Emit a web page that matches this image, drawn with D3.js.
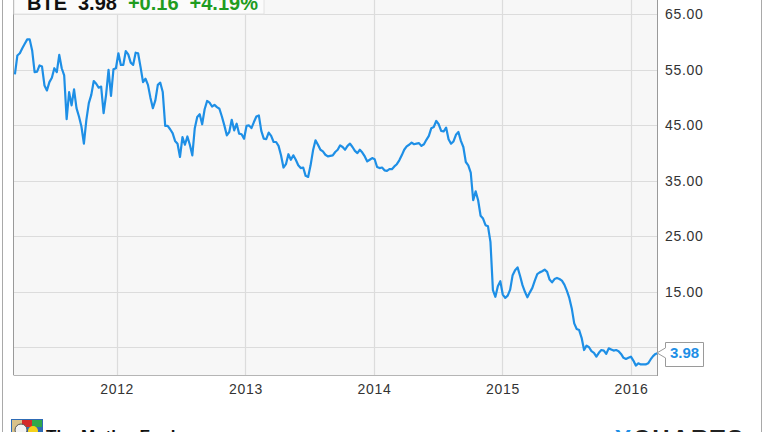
<!DOCTYPE html>
<html>
<head>
<meta charset="utf-8">
<script src="https://cdn.jsdelivr.net/npm/d3@7/dist/d3.min.js"></script>
<style>
  html, body { margin: 0; padding: 0; background: #fff; }
  svg { display: block; font-family: "Liberation Sans", Arial, sans-serif; }
</style>
</head>
<body>
<svg id="chart" width="764" height="432"></svg>
<script>
// ---- Data (weekly closes of BTE) ----
const ticker = "BTE";
const lastPrice = "3.98";
const change = "+0.16";
const changePct = "+4.19%";
const firstWeek = "2011-03-18";
const prices = [
  54.2, 57.6, 58.0, 58.9, 59.7, 60.5, 60.5, 58.5, 54.6, 54.7,
  55.8, 55.6, 52.2, 51.3, 52.8, 53.6, 55.3, 54.6, 57.7, 55.3,
  54.0, 46.1, 51.0, 48.6, 51.5, 48.1, 46.6, 44.8, 41.7, 46.0,
  49.0, 50.5, 53.0, 52.5, 51.8, 52.0, 47.2, 50.5, 55.0, 50.3,
  55.1, 55.3, 58.0, 55.9, 55.9, 58.4, 57.8, 56.3, 55.9, 58.1,
  58.0, 55.5, 52.8, 53.4, 52.3, 50.0, 48.1, 49.5, 52.3, 52.7,
  51.0, 44.9, 44.9, 44.3, 43.6, 42.2, 41.7, 39.3, 42.9, 41.5,
  43.0, 41.5, 39.6, 44.5, 46.5, 47.0, 45.2, 47.9, 49.4, 49.1,
  48.4, 48.7, 48.3, 48.0, 46.6, 45.0, 43.2, 43.8, 46.0, 44.1,
  45.3, 43.5, 43.4, 42.6, 44.9, 45.0, 44.5, 45.6, 46.6, 46.8,
  44.0, 42.6, 42.5, 43.7, 43.1, 42.0, 42.0, 41.3, 39.6, 37.4,
  38.0, 39.8, 38.8, 39.6, 38.8, 37.8, 37.3, 37.4, 35.9, 35.7,
  37.8, 40.5, 42.3, 41.5, 40.6, 40.3, 39.7, 39.4, 39.5, 39.6,
  40.2, 40.6, 41.4, 41.1, 40.6, 41.3, 41.7, 41.1, 40.4, 40.0,
  40.6, 40.1, 39.4, 38.5, 38.8, 39.1, 38.9, 37.5, 37.3, 37.4,
  36.9, 36.8, 37.1, 37.1, 37.6, 38.0, 38.7, 39.6, 40.6, 41.2,
  41.5, 41.9, 41.6, 41.7, 41.8, 41.3, 41.6, 42.4, 43.1, 44.5,
  44.7, 45.8, 45.2, 44.0, 43.9, 44.6, 42.5, 41.7, 42.1, 43.3,
  43.8, 42.2, 41.1, 38.4, 37.8, 36.5, 31.5, 33.1, 31.5, 28.7,
  28.2, 27.0, 26.8, 24.0, 15.3, 14.1, 16.0, 16.9, 14.5, 13.9,
  14.3, 15.4, 18.0, 18.9, 19.4, 17.9, 16.2, 15.0, 14.0, 14.9,
  15.7, 17.0, 18.2, 18.5, 18.7, 19.0, 18.6, 17.2, 16.7, 17.3,
  17.5, 17.3, 17.0, 16.3, 15.2, 13.9, 12.0, 9.3, 8.3, 8.1,
  6.7, 4.5, 5.3, 5.0, 4.3, 4.0, 3.3, 4.0, 4.5, 4.4,
  3.8, 4.8, 4.6, 4.4, 4.5, 4.3, 3.8, 3.1, 2.9, 3.1,
  3.3, 2.6, 1.7, 2.1, 1.9, 1.9, 1.9, 2.1, 2.8, 3.4,
  3.8, 3.98
];
const yTickValues = [65, 55, 45, 35, 25, 15];
const yGridValues = [65, 55, 45, 35, 25, 15, 5];
const xTickLabels = ["2012", "2013", "2014", "2015", "2016"];
const xDomain = ["2011-03-14", "2016-03-18"];
const yDomain = [0, 67.6];

// ---- Layout ----
const plot = { left: 13.5, right: 658, top: 0, bottom: 375 };
const parse = d3.timeParse("%Y-%m-%d");
const start = parse(firstWeek);
const data = prices.map((v, i) => ({ date: d3.timeDay.offset(start, 7 * i), value: v }));

const svg = d3.select("#chart");
const x = d3.scaleTime().domain(xDomain.map(parse)).range([plot.left, plot.right]);
const y = d3.scaleLinear().domain(yDomain).range([plot.bottom, plot.top]);

// outer frame
svg.append("rect").attr("x", 2.5).attr("y", -5).attr("width", 759).attr("height", 450)
  .attr("fill", "#fff").attr("stroke", "#a9a9a9").attr("stroke-width", 1);

// plot background
svg.append("rect").attr("x", plot.left).attr("y", plot.top)
  .attr("width", plot.right - plot.left).attr("height", plot.bottom - plot.top)
  .attr("fill", "#f7f7f7");

// grid
const grid = svg.append("g").attr("stroke", "#dcdcdc").attr("stroke-width", 1.2);
grid.selectAll("line.h").data(yGridValues).join("line")
  .attr("x1", plot.left).attr("x2", plot.right)
  .attr("y1", d => Math.round(y(d)) + 0.5).attr("y2", d => Math.round(y(d)) + 0.5);
const yearDates = xTickLabels.map(s => parse(s + "-01-01"));
grid.selectAll("line.v").data(yearDates).join("line")
  .attr("y1", plot.top).attr("y2", plot.bottom)
  .attr("x1", d => Math.round(x(d)) + 0.5).attr("x2", d => Math.round(x(d)) + 0.5);

// plot borders
svg.append("line").attr("x1", plot.left).attr("x2", plot.left).attr("y1", 0).attr("y2", plot.bottom)
  .attr("stroke", "#9a9a9a");
svg.append("line").attr("x1", plot.left).attr("x2", plot.right).attr("y1", plot.bottom + 0.5).attr("y2", plot.bottom + 0.5)
  .attr("stroke", "#b5b5b5");
svg.append("line").attr("x1", plot.right - 0.5).attr("x2", plot.right - 0.5).attr("y1", 0).attr("y2", plot.bottom + 1)
  .attr("stroke", "#9a9a9a");

// legend box
const lg = svg.append("g");
lg.append("rect").attr("x", plot.left + 0.5).attr("y", -6).attr("width", 250).attr("height", 20)
  .attr("fill", "#fbfbfb").attr("stroke", "#e2e2e2");
const lt = lg.append("text").attr("x", 27).attr("y", 9.5).attr("font-size", 20).attr("font-weight", "bold");
lt.append("tspan").attr("fill", "#111").text(ticker);
lt.append("tspan").attr("dx", 11).attr("fill", "#111").text(lastPrice);
lt.append("tspan").attr("dx", 11).attr("fill", "#1f9c1f").text(change);
lt.append("tspan").attr("dx", 11).attr("fill", "#1f9c1f").text(changePct);

// line
const line = d3.line().x(d => x(d.date)).y(d => y(d.value)).curve(d3.curveLinear);
svg.append("path").datum(data).attr("d", line)
  .attr("fill", "none").attr("stroke", "#1e8fe6").attr("stroke-width", 2.2)
  .attr("stroke-linejoin", "round");

// y axis labels
const yAxis = d3.axisRight(y).tickValues(yTickValues).tickSize(0).tickPadding(0)
  .tickFormat(d => d3.format(".2f")(d));
const ya = svg.append("g").attr("transform", `translate(665,0)`).call(yAxis);
ya.select(".domain").remove();
ya.selectAll("text").attr("font-family", "'Liberation Sans', Arial, sans-serif")
  .attr("font-size", 14).attr("fill", "#333").attr("letter-spacing", 0.7);

// x axis labels
const xAxis = d3.axisBottom(x).tickValues(yearDates).tickSize(0).tickPadding(0)
  .tickFormat(d3.timeFormat("%Y"));
const xa = svg.append("g").attr("transform", `translate(0,${plot.bottom + 9})`).call(xAxis);
xa.select(".domain").remove();
xa.selectAll("text").attr("font-family", "'Liberation Sans', Arial, sans-serif")
  .attr("font-size", 14).attr("fill", "#333").attr("letter-spacing", 0.7);

// last price flag
const last = data[data.length - 1];
const lx = x(last.date), ly = y(last.value);
const flag = svg.append("g");
flag.append("path")
  .attr("d", `M${lx - 1},${ly} L665.5,${ly - 5} L665.5,342.5 L703.5,342.5 L703.5,366.5 L665.5,366.5 L665.5,${ly + 5} Z`)
  .attr("fill", "#fff").attr("stroke", "#9a9a9a");
flag.append("text").attr("x", 684.5).attr("y", ly + 5.5).attr("text-anchor", "middle")
  .attr("font-size", 15).attr("font-weight", "bold").attr("fill", "#1e8fe6").text(lastPrice);

// footer
const logo = svg.append("g").attr("transform", "translate(11,419)");
logo.append("rect").attr("width", 32).attr("height", 16).attr("fill", "#2e6bb5");
logo.append("rect").attr("x", 1).attr("y", 1).attr("width", 10).attr("height", 14).attr("fill", "#d9c28a");
logo.append("rect").attr("x", 11).attr("y", 1).attr("width", 10).attr("height", 7).attr("fill", "#d42a2a");
logo.append("rect").attr("x", 21).attr("y", 1).attr("width", 10).attr("height", 7).attr("fill", "#2fa84a");
logo.append("circle").attr("cx", 10).attr("cy", 11).attr("r", 6).attr("fill", "#f3f3f3").attr("stroke", "#555");
logo.append("circle").attr("cx", 22).attr("cy", 12).attr("r", 5).attr("fill", "#f5d21b");
svg.append("text").attr("x", 46).attr("y", 442).attr("font-size", 17).attr("font-weight", "bold")
  .attr("fill", "#111").text("The Motley Fool");
const yc = svg.append("text").attr("x", 615).attr("y", 447).attr("font-size", 24).attr("font-weight", "bold")
  .attr("letter-spacing", 2);
yc.append("tspan").attr("fill", "#1e8fe6").text("Y");
yc.append("tspan").attr("fill", "#222").text("CHARTS");
</script>
</body>
</html>
